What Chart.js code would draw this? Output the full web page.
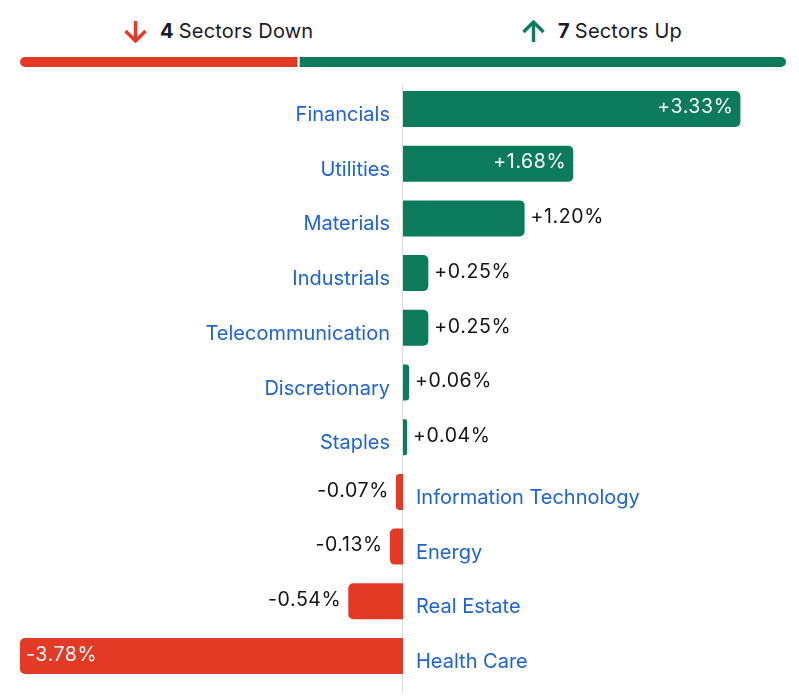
<!DOCTYPE html>
<html>
<head>
<meta charset="utf-8">
<script src="https://cdn.jsdelivr.net/npm/chart.js@4/dist/chart.umd.min.js"></script>
<style>
  html, body { margin: 0; padding: 0; background: #fff; }
  body { width: 799px; height: 698px; position: relative; overflow: hidden; font-family: Inter, "Noto Sans", sans-serif; }
  .hdr { position: absolute; top: 16px; height: 30px; display: flex; align-items: center; font-size: 20px; letter-spacing: 0.2px; color: #1a1a2a; white-space: nowrap; }
  .hdr svg { margin-right: 12px; }
  .hdr b { font-weight: 700; margin-right: 5px; }
  #summaryWrap { position: absolute; left: 0; top: 50px; width: 799px; height: 24px; }
  #mainWrap { position: absolute; left: 0; top: 75px; width: 799px; height: 623px; }
</style>
</head>
<body>
<div class="hdr" id="hdrDown" style="left:123px">
  <svg width="25" height="23" viewBox="0 0 25 23"><path d="M12.5 1 V21 M2.5 11 L12.5 21 L22.5 11" fill="none" stroke="#e33a26" stroke-width="3.4"/></svg>
  <b id="downCount"></b><span id="downText"></span>
</div>
<div class="hdr" id="hdrUp" style="left:521px">
  <svg width="25" height="23" viewBox="0 0 25 23"><path d="M12.5 22 V2 M2.5 12 L12.5 2 L22.5 12" fill="none" stroke="#0b7b5b" stroke-width="3.4"/></svg>
  <b id="upCount"></b><span id="upText"></span>
</div>
<div id="summaryWrap"><canvas id="summary"></canvas></div>
<div id="mainWrap"><canvas id="main"></canvas></div>
<script>
const categories = ['Financials', 'Utilities', 'Materials', 'Industrials', 'Telecommunication', 'Discretionary', 'Staples', 'Information Technology', 'Energy', 'Real Estate', 'Health Care'];
const changes = [3.33, 1.68, 1.20, 0.25, 0.25, 0.06, 0.04, -0.07, -0.13, -0.54, -3.78];
const summaryLabels = ['Sectors Down', 'Sectors Up'];
const sectorsDown = [4];
const sectorsUp = [7];

const GREEN = '#0b7b5b';
const RED = '#e33a26';
const BLUE = '#1d62d6';
const FONT = 'Inter, "Noto Sans", sans-serif';

document.getElementById('downCount').textContent = sectorsDown[0];
document.getElementById('downText').textContent = summaryLabels[0];
document.getElementById('upCount').textContent = sectorsUp[0];
document.getElementById('upText').textContent = summaryLabels[1];

// Summary bar
new Chart(document.getElementById('summary'), {
  type: 'bar',
  data: {
    labels: [''],
    datasets: [
      { data: sectorsDown, backgroundColor: RED, borderColor: '#fff', borderWidth: {left: 0, top: 0, bottom: 0, right: 1.5},
        borderSkipped: false, borderRadius: {topLeft: 5, bottomLeft: 5, topRight: 0, bottomRight: 0}, barThickness: 10 },
      { data: sectorsUp, backgroundColor: GREEN, borderColor: '#fff', borderWidth: {left: 1.5, top: 0, bottom: 0, right: 0},
        borderSkipped: false, borderRadius: {topLeft: 0, bottomLeft: 0, topRight: 5, bottomRight: 5}, barThickness: 10 }
    ]
  },
  options: {
    indexAxis: 'y', responsive: true, maintainAspectRatio: false, animation: false,
    layout: { padding: { left: 20, right: 13, top: 0, bottom: 0 } },
    plugins: { legend: { display: false }, tooltip: { enabled: false } },
    scales: {
      x: { stacked: true, display: false, min: 0, max: sectorsDown[0] + sectorsUp[0] },
      y: { stacked: true, display: false }
    }
  }
});

const labelPlugin = {
  id: 'labels',
  beforeDatasetsDraw(chart) {
    const ctx = chart.ctx;
    const x0 = chart.scales.x.getPixelForValue(0);
    ctx.save();
    ctx.strokeStyle = '#dcdcdc';
    ctx.lineWidth = 1;
    ctx.beginPath();
    ctx.moveTo(x0 - 0.5, chart.chartArea.top + 3.3);
    ctx.lineTo(x0 - 0.5, chart.chartArea.bottom + 9.6);
    ctx.stroke();
    ctx.restore();
  },
  afterDatasetsDraw(chart) {
    const ctx = chart.ctx;
    const meta = chart.getDatasetMeta(0);
    ctx.save();
    meta.data.forEach((bar, i) => {
      const v = changes[i];
      const base = bar.base;
      // category label
      ctx.font = '400 20px ' + FONT;
      ctx.letterSpacing = '0px';
      ctx.fillStyle = BLUE;
      ctx.textBaseline = 'middle';
      if (v >= 0) { ctx.textAlign = 'right'; ctx.fillText(categories[i], base - 13, bar.y + 6); }
      else { ctx.textAlign = 'left'; ctx.fillText(categories[i], base + 13, bar.y + 6); }
      // value label
      const txt = (v > 0 ? '+' : '') + v.toFixed(2) + '%';
      ctx.font = '400 19.5px ' + FONT;
      ctx.letterSpacing = '0.6px';
      const inside = Math.abs(v) >= 1.5;
      if (inside) {
        ctx.fillStyle = '#ffffff';
        if (v >= 0) { ctx.textAlign = 'right'; ctx.fillText(txt, bar.x - 7, bar.y - 2); }
        else { ctx.textAlign = 'left'; ctx.fillText(txt, bar.x + 6, bar.y - 1); }
      } else {
        ctx.fillStyle = '#141414';
        if (v >= 0) { ctx.textAlign = 'left'; ctx.fillText(txt, bar.x + 6, bar.y - 1); }
        else { ctx.textAlign = 'right'; ctx.fillText(txt, bar.x - 7, bar.y - 1); }
      }
    });
    ctx.restore();
  }
};

new Chart(document.getElementById('main'), {
  type: 'bar',
  data: {
    labels: categories,
    datasets: [{
      data: changes,
      backgroundColor: changes.map(v => v >= 0 ? GREEN : RED),
      borderRadius: 5,
      borderSkipped: 'start',
      barPercentage: 1,
      categoryPercentage: 0.658
    }]
  },
  options: {
    indexAxis: 'y', responsive: true, maintainAspectRatio: false, animation: false,
    layout: { padding: { left: 20, right: 13, top: 6.65, bottom: 14.65 } },
    plugins: { legend: { display: false }, tooltip: { enabled: false } },
    scales: {
      x: { display: false, min: -3.78, max: 3.78 },
      y: { display: false }
    }
  },
  plugins: [labelPlugin]
});
</script>
</body>
</html>
